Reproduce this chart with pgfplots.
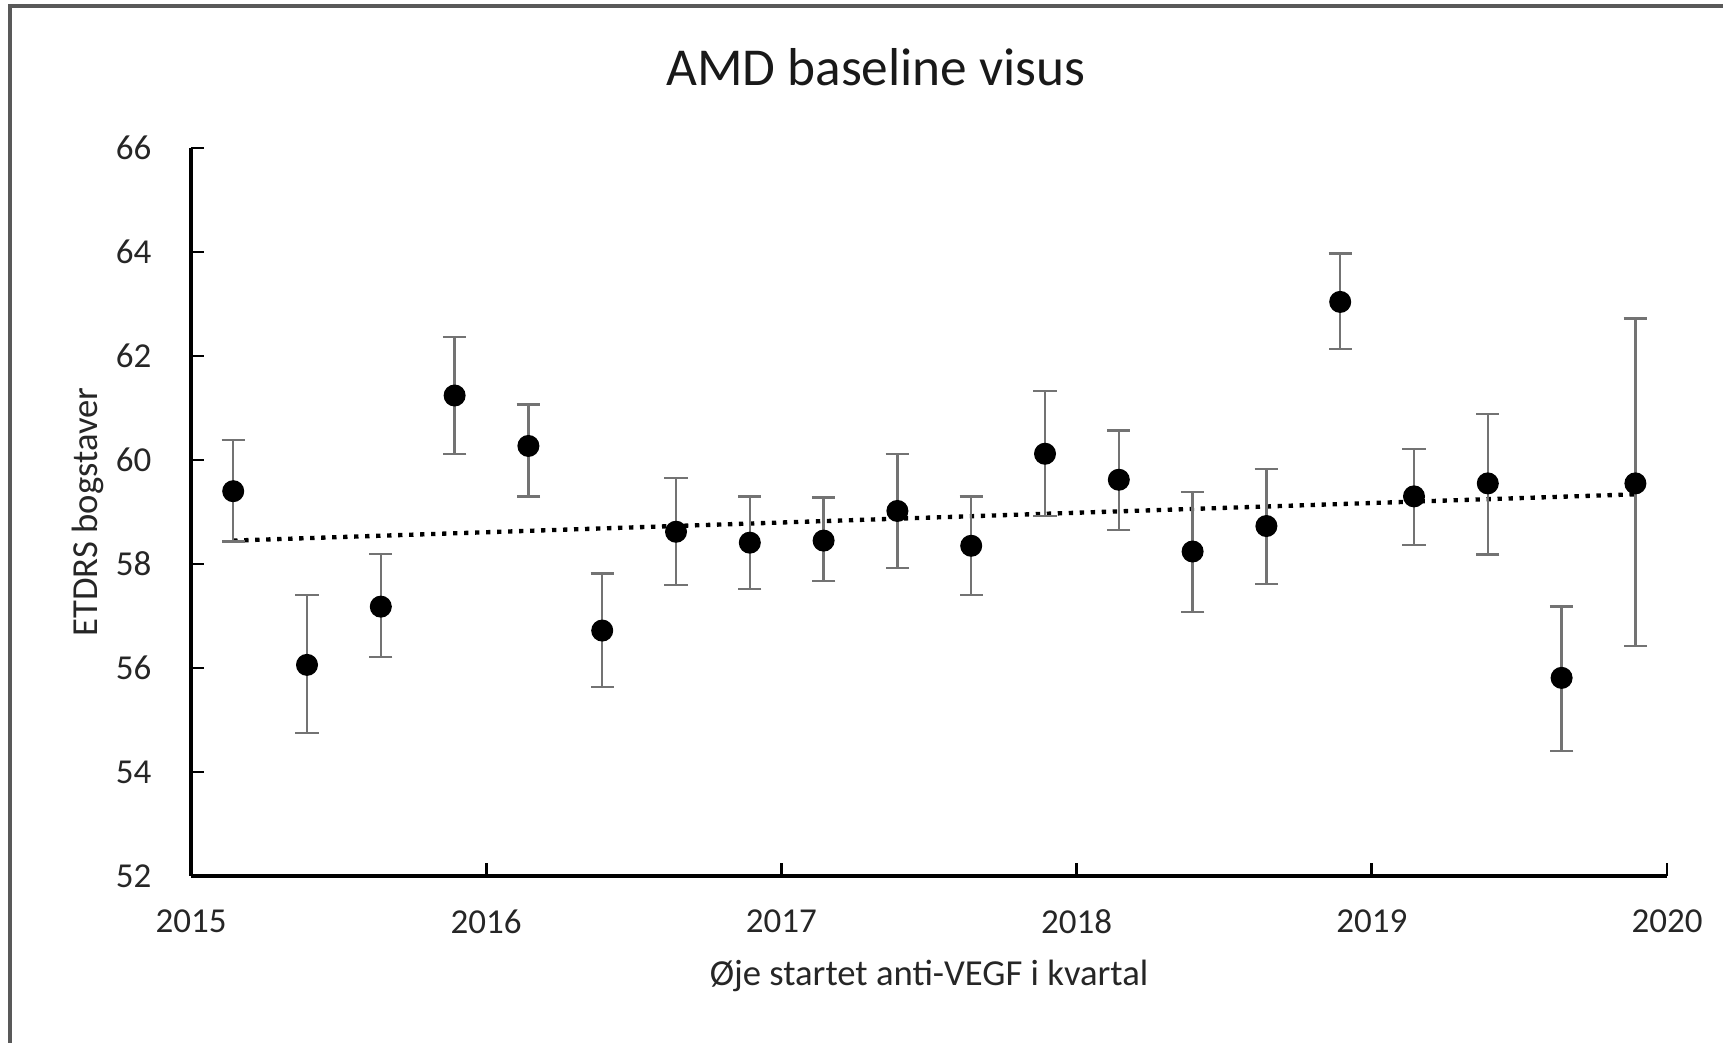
\documentclass[border=0pt]{standalone}
\usepackage{pgfplots}
\pgfplotsset{compat=1.18}
\usepackage{pgfplotstable}
\usepackage{fontspec}
\setmainfont{Carlito}
\pgfplotstableread{
x y ep em
2015.143 59.40 0.98 0.97
2015.393 56.06 1.34 1.31
2015.643 57.18 1.01 0.97
2015.893 61.24 1.12 1.12
2016.143 60.27 0.80 0.97
2016.393 56.72 1.10 1.08
2016.643 58.62 1.04 1.03
2016.893 58.41 0.89 0.89
2017.143 58.45 0.83 0.78
2017.393 59.02 1.10 1.10
2017.643 58.35 0.95 0.95
2017.893 60.12 1.21 1.20
2018.143 59.62 0.95 0.96
2018.393 58.24 1.14 1.16
2018.643 58.73 1.10 1.12
2018.893 63.04 0.93 0.91
2019.143 59.30 0.91 0.93
2019.393 59.55 1.33 1.37
2019.643 55.81 1.37 1.40
2019.893 59.55 3.17 3.13
}\datatable
\begin{document}
\begin{tikzpicture}
\useasboundingbox (-57.3pt,-50.1pt) rectangle (459.6pt,262.8pt);
\draw[line width=1pt, black!65] (-54.3pt,-50.1pt) -- (-54.3pt,261pt) -- (459.6pt,261pt);
\begin{axis}[
  scale only axis, width=442.8pt, height=218.4pt,
  xmin=2015, xmax=2020, ymin=52, ymax=66,
  axis lines*=left,
  axis line style={line width=1pt, black},
  tick align=inside,
  xtick={2015,2016,...,2020}, minor x tick num=3,
  ytick={52,54,...,66},
  major tick length=4pt, minor tick length=3pt,
  every tick/.style={black, line width=0.8pt},
  /pgf/number format/assume math mode=true,
  /pgf/number format/1000 sep={},
  tick label style={font=\fontsize{10.5}{12}\selectfont, text=black!85},
  yticklabel style={anchor=east, inner sep=0pt, xshift=-11.7pt},
  xticklabel style={anchor=north, inner sep=0pt, yshift=-10pt},
  title={AMD baseline visus},
  title style={at={(axis description cs:0.464,1.084)}, anchor=center, font=\fontsize{16}{19}\selectfont, text=black!90},
  xlabel={Øje startet anti-VEGF i kvartal},
  ylabel={ETDRS bogstaver},
  every axis x label/.style={at={(axis description cs:0.5,-0.137)}, anchor=center, font=\fontsize{11}{13}\selectfont, text=black!85},
  every axis y label/.style={at={(axis description cs:-0.0698,0.5)}, anchor=center, rotate=90, font=\fontsize{11}{13}\selectfont, text=black!85},
  clip=false,
]
\addplot[black, line width=1.3pt, dotted] coordinates {(2015.143,58.45) (2019.893,59.34)};
\addplot[only marks, mark=*, mark size=3.1pt, mark options={fill=black, draw=black},
  error bars/.cd, y dir=both, y explicit,
  error bar style={color=black!55, line width=0.7pt},
  error mark options={rotate=90, mark size=3.5pt, line width=0.7pt, color=black!55}]
  table[x=x, y=y, y error plus=ep, y error minus=em] {\datatable};
\end{axis}
\end{tikzpicture}
\end{document}
